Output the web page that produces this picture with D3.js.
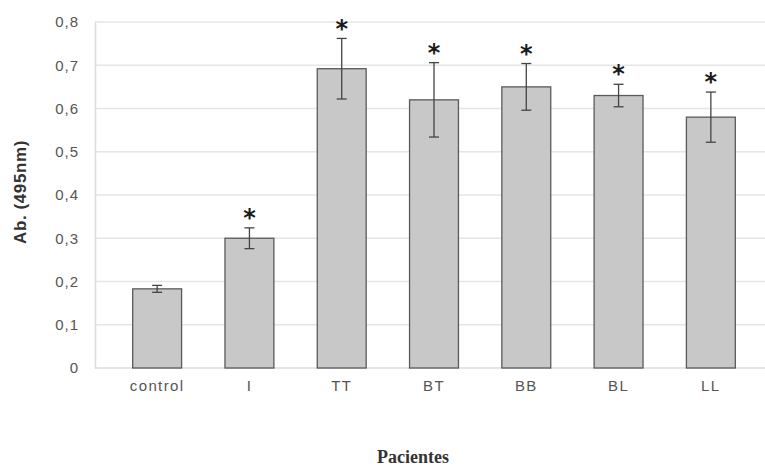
<!DOCTYPE html>
<html>
<head>
<meta charset="utf-8">
<script src="https://cdn.jsdelivr.net/npm/d3@7"></script>
<style>
  body { margin: 0; background: #fff; }
  svg { display: block; }
</style>
</head>
<body>
<script>
// Data
const categories = ["control", "I", "TT", "BT", "BB", "BL", "LL"];
const values     = [0.183, 0.300, 0.692, 0.620, 0.650, 0.630, 0.580];
const errors     = [0.008, 0.024, 0.070, 0.086, 0.054, 0.026, 0.058];
const starred    = [false, true, true, true, true, true, true];
const yTicks     = [0, 0.1, 0.2, 0.3, 0.4, 0.5, 0.6, 0.7, 0.8];

const W = 765, H = 466;
const plotLeft = 95, plotRight = 765, plotTop = 22, plotBottom = 368;
const tickFont = "Liberation Sans, Arial, sans-serif";

var svg = d3.select("body")
    .append("svg")
    .attr("width", W)
    .attr("height", H);

var x = d3.scaleBand()
    .domain(categories)
    .range([111, 757])
    .paddingInner(0.47)
    .paddingOuter(0.235);

var y = d3.scaleLinear()
    .domain([0, 0.8])
    .range([plotBottom, plotTop]);

// Gridlines
svg.append("g")
    .selectAll("line")
    .data(yTicks.slice(1))
    .enter().append("line")
    .attr("x1", plotLeft)
    .attr("x2", plotRight)
    .attr("y1", d => y(d))
    .attr("y2", d => y(d))
    .attr("stroke", "#e6e6e6")
    .attr("stroke-width", 1.5);

// Y axis
var yAxis = svg.append("g")
    .attr("transform", "translate(" + plotLeft + ",0)")
    .call(d3.axisLeft(y).tickValues(yTicks).tickSize(0).tickPadding(16)
        .tickFormat(d => d === 0 ? "0" : d3.format(".1f")(d).replace(".", ",")));
yAxis.select(".domain").attr("stroke", "#dcdcdc").attr("stroke-width", 1.5);
yAxis.selectAll("text")
    .style("font-family", tickFont)
    .style("font-size", "15px")
    .style("letter-spacing", "1px")
    .attr("fill", "#555");

// X axis
var xAxis = svg.append("g")
    .attr("transform", "translate(0," + plotBottom + ")")
    .call(d3.axisBottom(x).tickSize(0).tickPadding(12));
xAxis.select(".domain").attr("d", "M" + plotLeft + ",0H" + plotRight)
    .attr("stroke", "#dcdcdc").attr("stroke-width", 1.5);
xAxis.selectAll("text")
    .style("font-family", tickFont)
    .style("font-size", "15px")
    .style("letter-spacing", "1.4px")
    .attr("fill", "#555");

// Bars
svg.append("g")
    .selectAll("rect")
    .data(values)
    .enter().append("rect")
    .attr("x", (d, i) => x(categories[i]))
    .attr("y", d => y(d))
    .attr("width", x.bandwidth())
    .attr("height", d => y(0) - y(d))
    .attr("fill", "#c8c8c8")
    .attr("stroke", "#5a5a5a")
    .attr("stroke-width", 1.3);

// Error bars and significance marks
var eb = svg.append("g").attr("stroke", "#444").attr("stroke-width", 1.3);
values.forEach((v, i) => {
    var cx = x(categories[i]) + x.bandwidth() / 2;
    eb.append("line")
        .attr("x1", cx).attr("x2", cx)
        .attr("y1", y(v + errors[i])).attr("y2", y(v - errors[i]));
    [v + errors[i], v - errors[i]].forEach(e => {
        eb.append("line")
            .attr("x1", cx - 5).attr("x2", cx + 5)
            .attr("y1", y(e)).attr("y2", y(e));
    });
    if (starred[i]) {
        svg.append("text")
            .attr("x", cx)
            .attr("y", y(v + errors[i]) - 15)
            .attr("dy", "0.55em")
            .attr("text-anchor", "middle")
            .style("font-family", "DejaVu Sans, sans-serif")
            .style("font-size", "24px")
            .style("font-weight", "bold")
            .attr("fill", "#1a1a1a")
            .text("*");
    }
});

// Y axis label
svg.append("text")
    .attr("transform", "rotate(-90)")
    .attr("x", -192)
    .attr("y", 26)
    .attr("text-anchor", "middle")
    .style("font-family", tickFont)
    .style("font-size", "17px")
    .style("font-weight", "bold")
    .style("letter-spacing", "0.6px")
    .attr("fill", "#333")
    .text("Ab. (495nm)");

// X axis label
svg.append("text")
    .attr("x", 413)
    .attr("y", 463)
    .attr("text-anchor", "middle")
    .style("font-family", "Liberation Serif, Times New Roman, serif")
    .style("font-size", "18px")
    .style("font-weight", "bold")
    .attr("fill", "#333")
    .text("Pacientes");
</script>
</body>
</html>
